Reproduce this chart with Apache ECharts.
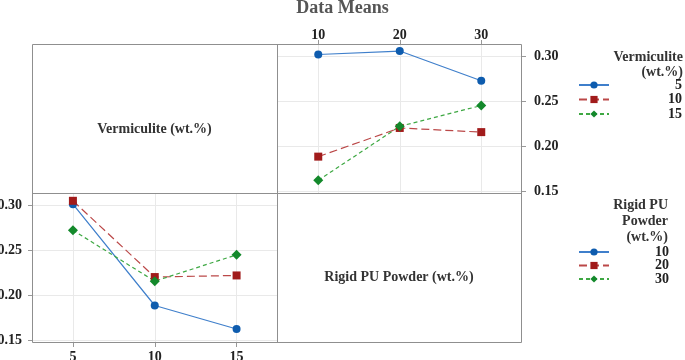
<!DOCTYPE html>
<html><head><meta charset="utf-8">
<script src="https://cdn.jsdelivr.net/npm/echarts@6/dist/echarts.min.js"></script>
<style>html,body{margin:0;padding:0;background:#fff}#c{width:685px;height:360px}</style>
</head><body><div id="c"></div>
<script>
const chartTitle = 'Data Means';
const puLevels = ['10', '20', '30'];
const vermLevels = ['5', '10', '15'];
// means by Vermiculite level, across Rigid PU Powder levels 10, 20, 30
const vermMeans5 = [0.3017, 0.3055, 0.2727];
const vermMeans10 = [0.1888, 0.2205, 0.2159];
const vermMeans15 = [0.1626, 0.2223, 0.2453];
const yTicks = [0.15, 0.20, 0.25, 0.30];

const vermRows = [vermMeans5, vermMeans10, vermMeans15];
const puCols = puLevels.map((_, j) => vermRows.map(r => r[j]));

const FONT = 'Liberation Serif';
const styles = [
  {line: '#3f7fcb', mark: '#0e5cae', symbol: 'circle', size: 8, type: 'solid'},
  {line: '#bb4848', mark: '#a11b1b', symbol: 'rect', size: 8, type: [8, 4]},
  {line: '#3ea843', mark: '#13892b', symbol: 'diamond', size: 10, type: [4, 3]}
];
function mk(name, data, idx, s) {
  return {
    name, type: 'line', xAxisIndex: idx, yAxisIndex: idx, data,
    symbol: s.symbol, symbolSize: s.size,
    lineStyle: {color: s.line, width: 1.2, type: s.type},
    itemStyle: {color: s.mark},
    emphasis: {disabled: true}, animation: false
  };
}
const series = [];
vermLevels.forEach((v, i) => series.push(mk('Vermiculite ' + v, vermRows[i], 0, styles[i])));
puLevels.forEach((p, i) => series.push(mk('Rigid PU ' + p, puCols[i], 1, styles[i])));

const lab = {fontFamily: FONT, fontWeight: 'bold', fontSize: 14, color: '#222'};
const tick = {show: true, length: 4, lineStyle: {color: '#999'}};
const split = {show: true, lineStyle: {color: '#e9e9e9', width: 1}};

const L = 32, M = 277.5, R = 522, T = 44, H = 193, B = 343;

const chart = echarts.init(document.getElementById('c'), null, {renderer: 'canvas'});
chart.setOption({
  animation: false,
  backgroundColor: '#fff',
  grid: [
    {left: M, top: T, width: R - M, height: H - T, outerBoundsMode: 'none', containLabel: false},
    {left: L, top: H, width: M - L, height: B - H, outerBoundsMode: 'none', containLabel: false}
  ],
  xAxis: [
    {gridIndex: 0, type: 'category', data: puLevels, position: 'top', boundaryGap: true,
      axisLine: {show: false}, axisTick: Object.assign({alignWithLabel: true}, tick),
      axisLabel: Object.assign({margin: 2}, lab),
      splitLine: Object.assign({alignWithLabel: true}, split)},
    {gridIndex: 1, type: 'category', data: vermLevels, position: 'bottom', boundaryGap: true,
      axisLine: {show: false}, axisTick: Object.assign({alignWithLabel: true}, tick),
      axisLabel: Object.assign({margin: 7}, lab),
      splitLine: Object.assign({alignWithLabel: true}, split)}
  ],
  yAxis: [
    {gridIndex: 0, type: 'value', position: 'right', min: 0.1486, max: 0.3133, splitNumber: 3,
      axisLine: {show: false}, axisTick: Object.assign({customValues: yTicks}, tick),
      axisLabel: Object.assign({margin: 12, customValues: yTicks, formatter: v => v.toFixed(2)}, lab),
      splitLine: split},
    {gridIndex: 1, type: 'value', position: 'left', min: 0.147, max: 0.3142, splitNumber: 3,
      axisLine: {show: false}, axisTick: Object.assign({customValues: yTicks}, tick),
      axisLabel: Object.assign({margin: 10, customValues: yTicks, formatter: v => v.toFixed(2)}, lab),
      splitLine: split}
  ],
  legend: [
    {data: vermLevels.map(v => 'Vermiculite ' + v), orient: 'vertical', left: 573, top: 73,
      itemWidth: 30, itemHeight: 9, itemGap: 0.5, selectedMode: false,
      formatter: n => '{a|' + n.replace('Vermiculite ', '') + '}',
      textStyle: {rich: {a: Object.assign({width: 68, align: 'right', lineHeight: 12}, lab)}}},
    {data: puLevels.map(p => 'Rigid PU ' + p), orient: 'vertical', left: 573, top: 240,
      itemWidth: 30, itemHeight: 9, itemGap: -0.5, selectedMode: false,
      formatter: n => '{a|' + n.replace('Rigid PU ', '') + '}',
      textStyle: {rich: {a: Object.assign({width: 55, align: 'right', lineHeight: 12}, lab)}}}
  ],
  graphic: [
    {type: 'text', left: 'center', top: -1, style: {text: chartTitle, x: 0, y: 0, fill: '#555', font: 'bold 18px "Liberation Serif"'}},
    {type: 'rect', shape: {x: L + 0.5, y: T + 0.5, width: R - L - 1, height: B - T - 1}, style: {fill: null, stroke: '#8f8f8f', lineWidth: 1}, z: 50},
    {type: 'line', shape: {x1: M, y1: T, x2: M, y2: B}, style: {stroke: '#8f8f8f', lineWidth: 1}, z: 50},
    {type: 'line', shape: {x1: L, y1: H + 0.5, x2: R, y2: H + 0.5}, style: {stroke: '#8f8f8f', lineWidth: 1}, z: 50},
    {type: 'text', style: {text: 'Vermiculite (wt.%)', x: 154.5, y: 129, textAlign: 'center', textVerticalAlign: 'middle', fill: '#333', font: 'bold 14px "Liberation Serif"'}},
    {type: 'text', style: {text: 'Rigid PU Powder (wt.%)', x: 399, y: 277, textAlign: 'center', textVerticalAlign: 'middle', fill: '#333', font: 'bold 14px "Liberation Serif"'}},
    {type: 'text', style: {text: 'Vermiculite\n(wt.%)', x: 683, y: 50, textAlign: 'right', lineHeight: 15, fill: '#333', font: 'bold 14px "Liberation Serif"'}},
    {type: 'text', style: {text: 'Rigid PU\nPowder\n(wt.%)', x: 668, y: 197, textAlign: 'right', lineHeight: 16, fill: '#333', font: 'bold 14px "Liberation Serif"'}}
  ],
  series
});
</script></body></html>
